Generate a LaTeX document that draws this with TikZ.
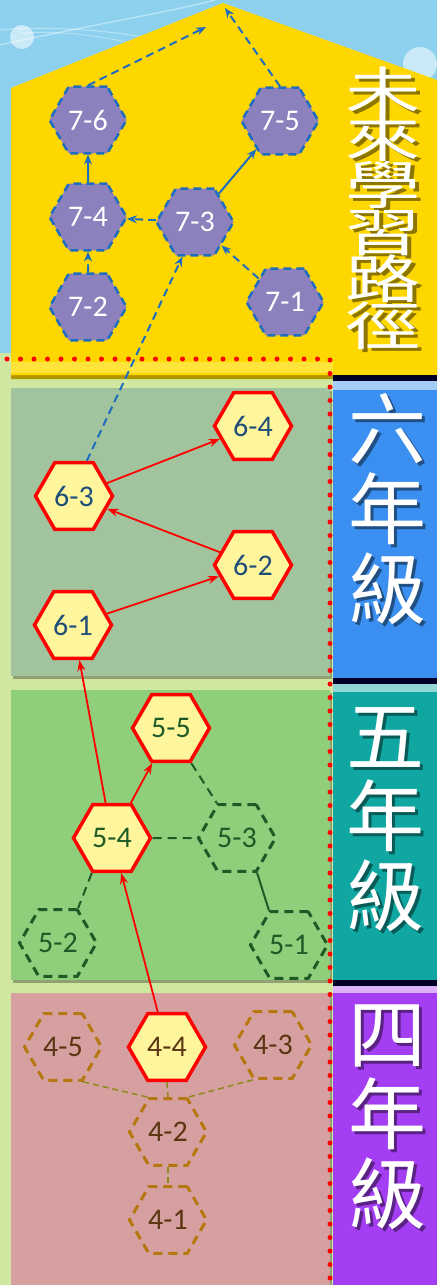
\documentclass[tikz,border=0pt]{standalone}
\usepackage{fontspec}
\setmainfont{Carlito}
\newfontfamily\cjk{Noto Sans CJK TC}
\usetikzlibrary{shapes.geometric,arrows.meta}
\definecolor{sky}{HTML}{8DD1EF}
\definecolor{house}{HTML}{FFD700}
\definecolor{paleyel}{HTML}{FFE43C}
\definecolor{strip}{HTML}{D0E7A2}
\definecolor{sixbg}{HTML}{A1C49F}
\definecolor{fivebg}{HTML}{8FCE7B}
\definecolor{fourbg}{HTML}{D69FA0}
\definecolor{sixcol}{HTML}{3A8FF0}
\definecolor{fivecol}{HTML}{10A6A1}
\definecolor{fourcol}{HTML}{A43EF2}
\definecolor{hexpurple}{HTML}{8C80BD}
\definecolor{hexyellow}{HTML}{FFF59D}
\definecolor{lineblue}{HTML}{1F6DBF}
\definecolor{txtblue}{HTML}{1F4E79}
\definecolor{dkgreen}{HTML}{1D5A26}
\definecolor{hexbrown}{HTML}{B4780E}
\definecolor{txtbrown}{HTML}{5A3612}
\definecolor{olive}{HTML}{8C8A1E}
% white glyph with its shadow in one box
\newcommand{\shchar}[2]{\makebox[0pt][l]{\kern3pt\raisebox{-3pt}{\textcolor{#1}{#2}}}#2}

\begin{document}
\begin{tikzpicture}[x=1pt,y=-1pt,
    hex/.style={regular polygon, regular polygon sides=6, minimum size=77pt, inner sep=0pt,
      font=\fontsize{30}{30}\selectfont},
    hexp/.style={hex, fill=hexpurple, draw=lineblue, line width=2.5pt, dash pattern=on 8pt off 5pt, text=white},
    hexr/.style={hex, fill=hexyellow, draw=red, line width=3.5pt, text=#1},
    hexg/.style={hex, draw=dkgreen, line width=3pt, dash pattern=on 9pt off 6pt, text=dkgreen},
    hexb/.style={hex, draw=hexbrown, line width=3pt, dash pattern=on 9pt off 6pt, text=txtbrown},
    blu/.style={draw=lineblue, line width=2pt, -{Stealth[length=10pt,width=8pt]}},
    bludash/.style={blu, dash pattern=on 8pt off 5pt},
    redarr/.style={draw=red, line width=1.8pt, -{Stealth[length=11pt,width=8pt]}},
    grn/.style={draw=dkgreen, line width=2pt, dash pattern=on 9pt off 6pt},
    oli/.style={draw=olive, line width=1.5pt, dash pattern=on 6pt off 4pt},
    ttl/.style={text=white, font=\cjk\fontsize{78}{78}\selectfont, inner sep=0pt,
      text height=0.86em, text depth=0.1em}]

  \useasboundingbox (0,0) rectangle (437,1285);

  % background
  \fill[sky] (0,0) rectangle (437,380);
  \draw[white, opacity=.45, line width=1.2pt] (0,45) .. controls (90,25) and (170,12) .. (215,0);
  \draw[white, opacity=.35, line width=1.2pt] (0,30) .. controls (60,25) and (120,32) .. (160,40);
  \draw[white, opacity=.35, line width=1pt] (20,33) .. controls (70,30) and (110,38) .. (140,45);
  \fill[white, opacity=.55] (22,37) circle (12);
  \fill[white, opacity=.55] (420,64) circle (17);
  \fill[strip] (0,353) rectangle (333,1285);

  \fill[house!70!black] (11,90) -- (223,5) -- (437,83) -- (437,379) -- (11,379) -- cycle;
  \fill[house] (11,88) -- (223,3) -- (437,80) -- (437,375) -- (11,375) -- cycle;
  \fill[paleyel] (11,362) rectangle (333,373);

  % grade panels
  \foreach \ya/\yb/\c in {388/676/sixbg, 690/980/fivebg, 993/1285/fourbg} {
    \fill[black, opacity=.3] (13,\ya+3) rectangle (332,\yb+3);
    \fill[\c] (11,\ya) rectangle (330,\yb);
  }
  \fill[black!85!blue] (333,375) rectangle (437,1285);
  \fill[sixcol!45!white] (333,381) rectangle (437,390);
  \fill[sixcol] (333,390) rectangle (437,678);
  \fill[fivecol!45!white] (333,684) rectangle (437,692);
  \fill[fivecol] (333,692) rectangle (437,980);
  \fill[fourcol!40!white] (333,986) rectangle (437,993);
  \fill[fourcol] (333,993) rectangle (437,1285);

  \draw[red, line width=5pt, line cap=round, dash pattern=on 0pt off 13.5pt]
    (7,359) -- (330,359) -- (330,1285);

  % titles
  \foreach \c [count=\i] in {未,來,學,習,路,徑} {
    \node[ttl, font=\cjk\fontsize{52}{52}\selectfont, text height=0.8em, text depth=0.08em, xscale=1.45]
      (fut\i) at (383,60+47*\i) {\shchar{black!45!house}{\c}};
  }
  \foreach \c [count=\i] in {六,年,級} {
    \node[ttl] (six\i) at (387,375+80*\i) {\shchar{black!45!sixcol}{\c}};
  }
  \foreach \c [count=\i] in {五,年,級} {
    \node[ttl] (five\i) at (385,682+80*\i) {\shchar{black!45!fivecol}{\c}};
  }
  \foreach \c [count=\i] in {四,年,級} {
    \node[ttl] (four\i) at (387,980+80*\i) {\shchar{black!45!fourcol}{\c}};
  }

  % future path
  \node[hexp] (76) at (88,120) {7-6};
  \node[hexp] (75) at (280,121) {7-5};
  \node[hexp] (74) at (88,217) {7-4};
  \node[hexp] (73) at (195,222) {7-3};
  \node[hexp] (72) at (88,307) {7-2};
  \node[hexp] (71) at (285,302) {7-1};
  \coordinate (roofa) at (206,27);
  \coordinate (roofb) at (225,8);

  % grade 6
  \node[hexr=txtblue] (64) at (253,426) {6-4};
  \node[hexr=txtblue] (63) at (74,496) {6-3};
  \node[hexr=txtblue] (62) at (253,565) {6-2};
  \node[hexr=txtblue] (61) at (73,625) {6-1};

  % grade 5
  \node[hexr=dkgreen] (55) at (171,728) {5-5};
  \node[hexr=dkgreen] (54) at (112,838) {5-4};
  \node[hexg] (53) at (237,838) {5-3};
  \node[hexg] (52) at (58,943) {5-2};
  \node[hexg] (51) at (289,945) {5-1};

  % grade 4
  \node[hexb] (45) at (63,1047) {4-5};
  \node[hexr=txtbrown] (44) at (167,1047) {4-4};
  \node[hexb] (43) at (273,1045) {4-3};
  \node[hexb] (42) at (168,1132) {4-2};
  \node[hexb] (41) at (168,1220) {4-1};

  \draw[bludash] (72) -- (74);
  \draw[blu] (74) -- (76);
  \draw[bludash] (73) -- (74);
  \draw[blu] (73) -- (75);
  \draw[bludash] (71) -- (73);
  \draw[bludash] (76.north) -- (roofa);
  \draw[bludash] (75.north) -- (roofb);
  \draw[bludash] (63.70) -- (73.-110);

  \draw[redarr] (63) -- (64);
  \draw[redarr] (62) -- (63);
  \draw[redarr] (61) -- (62);
  \draw[redarr] (54) -- (61);
  \draw[redarr] (54) -- (55);
  \draw[redarr] (44) -- (54);

  \draw[grn] (55.-60) -- (53.120);
  \draw[grn] (54.east) -- (53.west);
  \draw[draw=dkgreen, line width=2pt] (53.-60) -- (51.120);
  \draw[grn] (54.-120) -- (52.60);

  \draw[oli] (45.-60) -- (42.120);
  \draw[oli] (44.south) -- (42.north);
  \draw[oli] (43.-120) -- (42.60);
  \draw[oli] (42.south) -- (41.north);
\end{tikzpicture}
\end{document}
